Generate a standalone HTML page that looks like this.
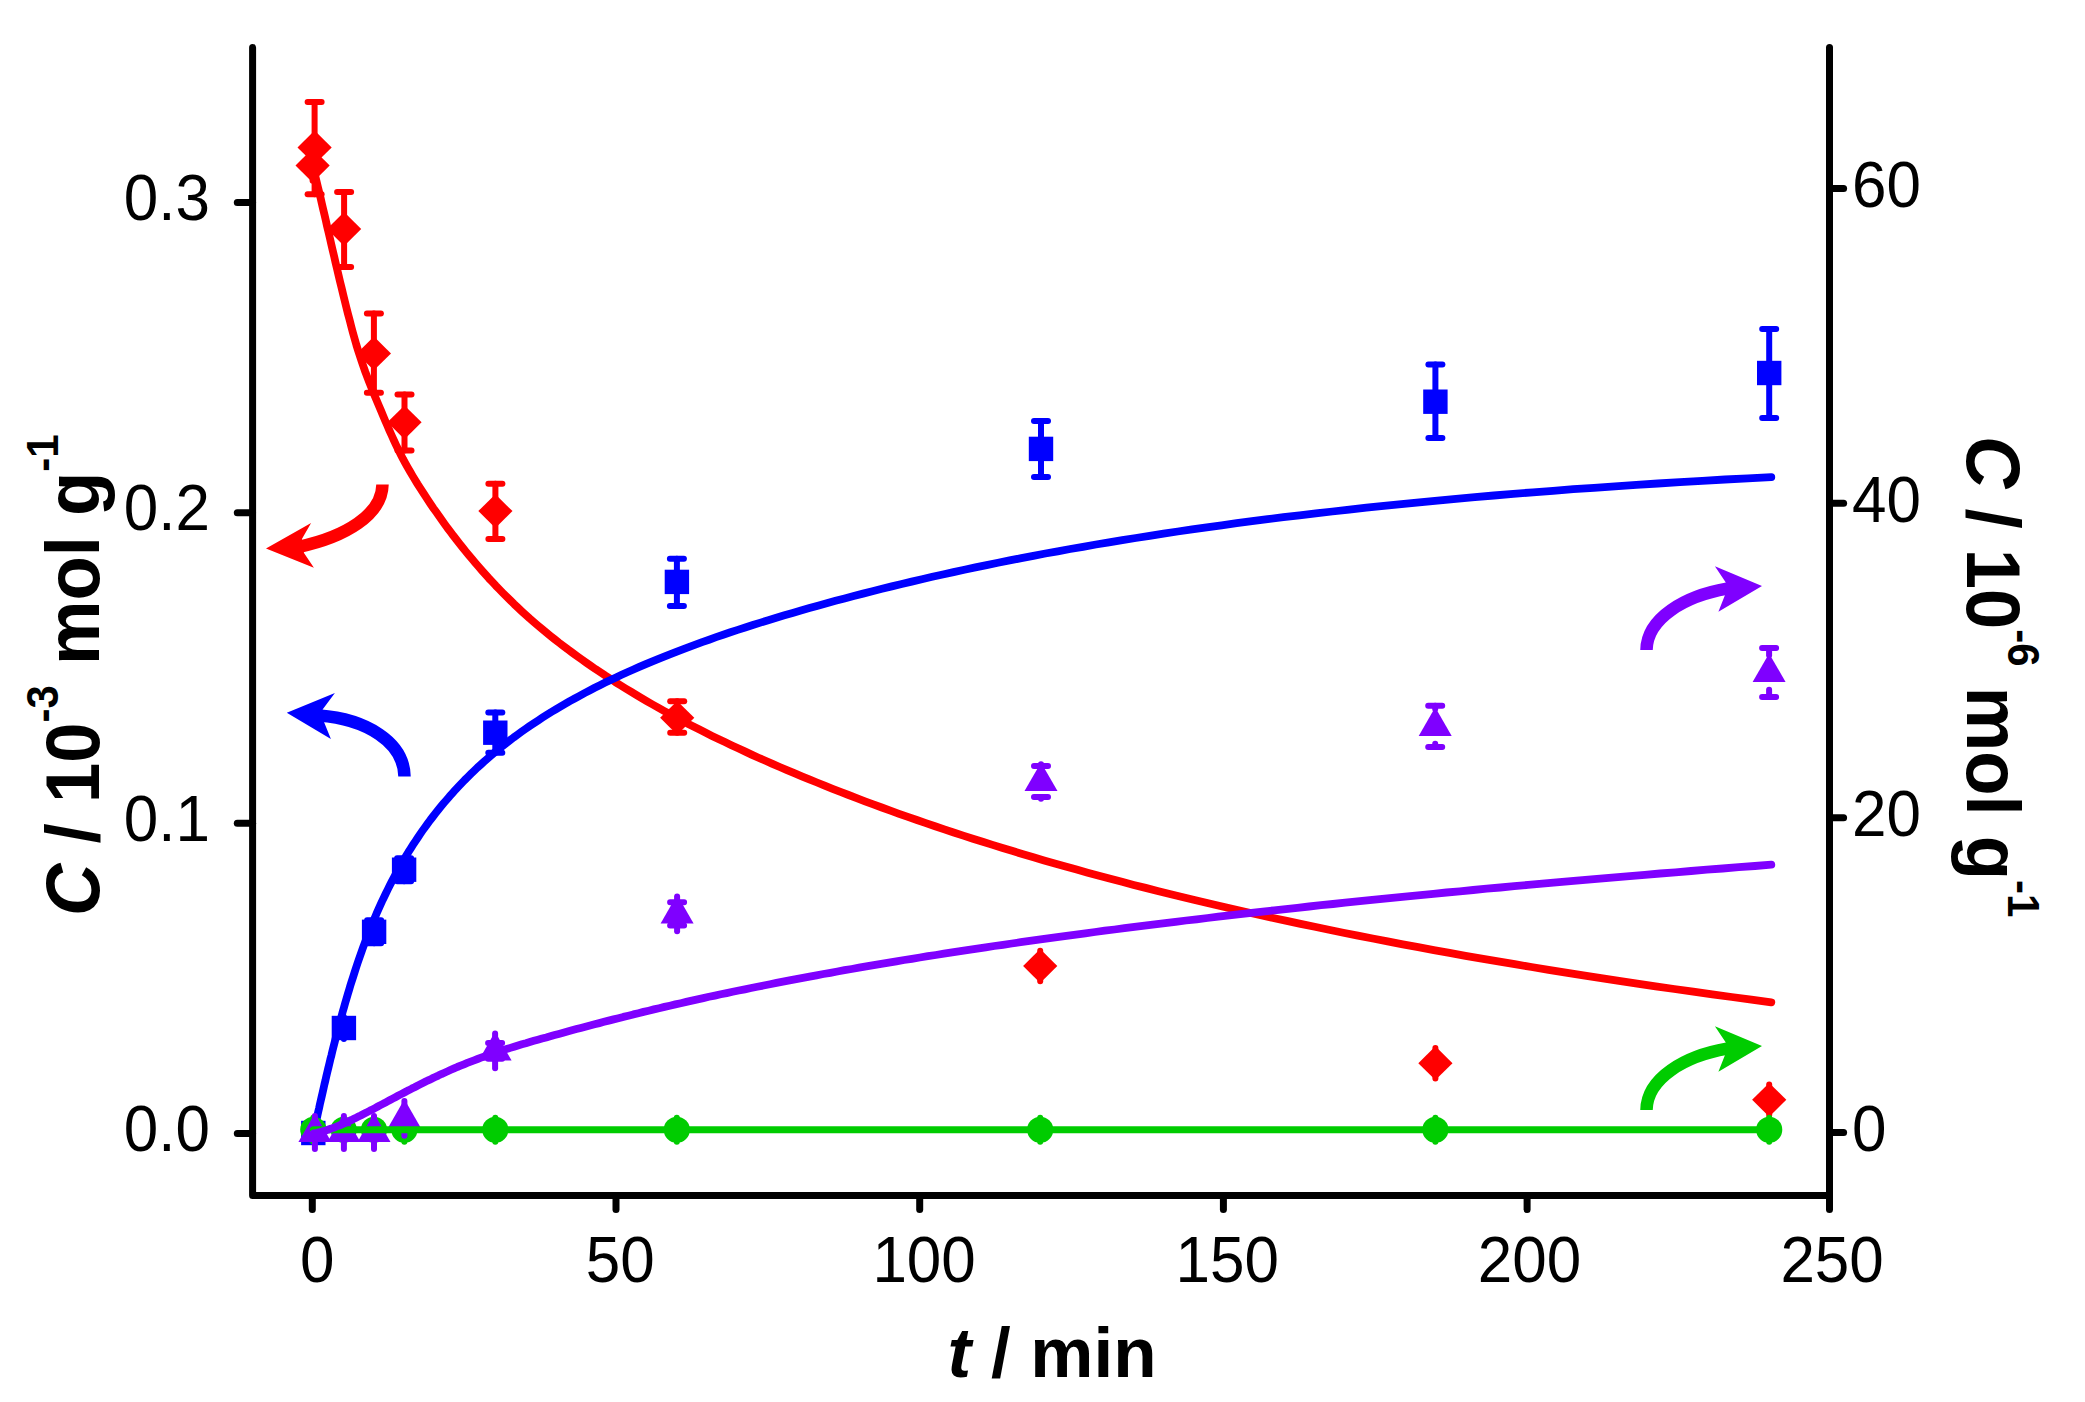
<!DOCTYPE html>
<html><head><meta charset="utf-8"><title>C vs t</title>
<style>
html,body{margin:0;padding:0;background:#fff;}
svg{display:block}
text{font-family:"Liberation Sans",sans-serif;fill:#000}
.tk{font-size:62px}
.ax{font-size:72.5px;font-weight:bold}
.sup{font-size:42px}
</style></head><body>
<svg width="2085" height="1402" viewBox="0 0 2085 1402">
<rect width="2085" height="1402" fill="#fff"/>

<g id="red">
<path d="M312.6,150.2V180.8" stroke="#FF0000" stroke-width="6" stroke-linecap="round"/>
<g stroke="#FF0000" stroke-width="6" stroke-linecap="round" fill="none"><path d="M314.6,102.0V194.2"/><path d="M307.6,102.0H321.6"/><path d="M307.6,194.2H321.6"/></g>
<g stroke="#FF0000" stroke-width="6" stroke-linecap="round" fill="none"><path d="M344.1,192.0V267.0"/><path d="M337.1,192.0H351.1"/><path d="M337.1,267.0H351.1"/></g>
<g stroke="#FF0000" stroke-width="6" stroke-linecap="round" fill="none"><path d="M373.9,313.6V392.8"/><path d="M366.9,313.6H380.9"/><path d="M366.9,392.8H380.9"/></g>
<g stroke="#FF0000" stroke-width="6" stroke-linecap="round" fill="none"><path d="M404.5,394.5V450.6"/><path d="M397.5,394.5H411.5"/><path d="M397.5,450.6H411.5"/></g>
<g stroke="#FF0000" stroke-width="6" stroke-linecap="round" fill="none"><path d="M495.4,483.7V538.9"/><path d="M488.4,483.7H502.4"/><path d="M488.4,538.9H502.4"/></g>
<g stroke="#FF0000" stroke-width="6" stroke-linecap="round" fill="none"><path d="M677.2,701.2V732.8"/><path d="M670.2,701.2H684.2"/><path d="M670.2,732.8H684.2"/></g>
<path d="M1040.2,950.7V981.3" stroke="#FF0000" stroke-width="6" stroke-linecap="round"/>
<path d="M1435.4,1047.9V1078.5" stroke="#FF0000" stroke-width="6" stroke-linecap="round"/>
<path d="M1769.2,1084.5V1115.1" stroke="#FF0000" stroke-width="6" stroke-linecap="round"/>
<path d="M295.5,165.5L312.6,148.6L329.7,165.5L312.6,182.4Z" fill="#FF0000"/>
<path d="M297.5,147.4L314.6,130.5L331.7,147.4L314.6,164.3Z" fill="#FF0000"/>
<path d="M327.0,229.0L344.1,212.1L361.2,229.0L344.1,245.9Z" fill="#FF0000"/>
<path d="M356.8,353.4L373.9,336.5L391.0,353.4L373.9,370.3Z" fill="#FF0000"/>
<path d="M387.4,422.3L404.5,405.4L421.6,422.3L404.5,439.2Z" fill="#FF0000"/>
<path d="M478.3,511.1L495.4,494.2L512.5,511.1L495.4,528.0Z" fill="#FF0000"/>
<path d="M660.1,717.8L677.2,700.9L694.3,717.8L677.2,734.7Z" fill="#FF0000"/>
<path d="M1023.1,966.0L1040.2,949.1L1057.3,966.0L1040.2,982.9Z" fill="#FF0000"/>
<path d="M1418.3,1063.2L1435.4,1046.3L1452.5,1063.2L1435.4,1080.1Z" fill="#FF0000"/>
<path d="M1752.1,1099.8L1769.2,1082.9L1786.3,1099.8L1769.2,1116.7Z" fill="#FF0000"/>
</g>
<g id="blue">
<path d="M343.9,1017.0V1039.0" stroke="#0000FF" stroke-width="6" stroke-linecap="round"/>
<g stroke="#0000FF" stroke-width="6" stroke-linecap="round" fill="none"><path d="M374.1,920.3V943.3"/><path d="M367.1,920.3H381.1"/><path d="M367.1,943.3H381.1"/></g>
<g stroke="#0000FF" stroke-width="6" stroke-linecap="round" fill="none"><path d="M404.1,858.3V881.2"/><path d="M397.1,858.3H411.1"/><path d="M397.1,881.2H411.1"/></g>
<g stroke="#0000FF" stroke-width="6" stroke-linecap="round" fill="none"><path d="M495.3,712.6V752.8"/><path d="M488.3,712.6H502.3"/><path d="M488.3,752.8H502.3"/></g>
<g stroke="#0000FF" stroke-width="6" stroke-linecap="round" fill="none"><path d="M676.9,558.8V605.9"/><path d="M669.9,558.8H683.9"/><path d="M669.9,605.9H683.9"/></g>
<g stroke="#0000FF" stroke-width="6" stroke-linecap="round" fill="none"><path d="M1041.0,420.9V476.9"/><path d="M1034.0,420.9H1048.0"/><path d="M1034.0,476.9H1048.0"/></g>
<g stroke="#0000FF" stroke-width="6" stroke-linecap="round" fill="none"><path d="M1435.4,364.5V438.1"/><path d="M1428.4,364.5H1442.4"/><path d="M1428.4,438.1H1442.4"/></g>
<g stroke="#0000FF" stroke-width="6" stroke-linecap="round" fill="none"><path d="M1769.2,329.0V418.0"/><path d="M1762.2,329.0H1776.2"/><path d="M1762.2,418.0H1776.2"/></g>
<rect x="301.1" y="1120.8" width="24.4" height="24.4" fill="#0000FF"/>
<rect x="331.7" y="1015.8" width="24.4" height="24.4" fill="#0000FF"/>
<rect x="361.9" y="919.6" width="24.4" height="24.4" fill="#0000FF"/>
<rect x="391.9" y="857.5" width="24.4" height="24.4" fill="#0000FF"/>
<rect x="483.1" y="720.5" width="24.4" height="24.4" fill="#0000FF"/>
<rect x="664.7" y="569.7" width="24.4" height="24.4" fill="#0000FF"/>
<rect x="1028.8" y="436.7" width="24.4" height="24.4" fill="#0000FF"/>
<rect x="1423.2" y="389.5" width="24.4" height="24.4" fill="#0000FF"/>
<rect x="1757.0" y="360.8" width="24.4" height="24.4" fill="#0000FF"/>
</g>
<path d="M313.2,167.9 L314.4,172.6 L315.6,177.4 L316.8,182.4 L318.0,187.4 L319.3,192.7 L320.6,198.0 L321.8,203.4 L323.1,209.0 L324.5,214.7 L325.8,220.4 L327.1,226.3 L328.5,232.2 L329.9,238.2 L331.3,244.3 L332.7,250.4 L334.2,256.6 L335.6,262.9 L337.1,269.2 L338.6,275.5 L340.1,281.9 L341.7,288.3 L343.2,294.7 L344.8,301.1 L346.4,307.6 L348.0,314.0 L349.7,320.3 L351.3,326.6 L353.0,332.9 L354.7,339.0 L356.4,345.0 L358.2,350.8 L360.0,356.4 L361.8,361.8 L363.6,367.0 L365.4,372.1 L367.3,377.1 L369.2,382.0 L371.1,386.8 L373.0,391.6 L375.0,396.4 L377.0,401.2 L379.0,406.0 L381.1,410.9 L383.1,415.8 L385.2,420.7 L387.4,425.7 L389.5,430.6 L391.7,435.5 L393.9,440.4 L396.1,445.1 L398.4,449.8 L400.7,454.4 L403.0,458.9 L405.4,463.3 L407.8,467.6 L410.2,471.8 L412.6,475.9 L415.1,480.0 L417.6,484.1 L420.2,488.1 L422.8,492.2 L425.4,496.2 L428.0,500.2 L430.7,504.2 L433.4,508.2 L436.2,512.1 L439.0,516.1 L441.8,520.1 L444.6,524.0 L447.5,528.0 L450.5,531.9 L453.4,535.8 L456.5,539.7 L459.5,543.6 L462.6,547.5 L465.7,551.4 L468.9,555.3 L472.1,559.1 L475.4,563.0 L478.7,566.8 L482.0,570.6 L485.4,574.4 L488.8,578.2 L492.3,581.9 L495.8,585.7 L499.4,589.4 L503.0,593.1 L506.7,596.8 L510.4,600.4 L514.1,604.1 L517.9,607.7 L521.8,611.3 L525.7,614.8 L529.6,618.4 L533.6,621.9 L537.7,625.4 L541.8,628.8 L546.0,632.3 L550.2,635.7 L554.5,639.1 L558.8,642.5 L563.2,645.8 L567.6,649.2 L572.1,652.5 L576.7,655.9 L581.3,659.2 L586.0,662.5 L590.7,665.8 L595.5,669.1 L600.4,672.3 L605.3,675.6 L610.3,678.8 L615.3,682.1 L620.4,685.3 L625.6,688.5 L630.9,691.7 L636.2,694.9 L641.6,698.1 L647.1,701.3 L652.6,704.5 L658.2,707.6 L663.9,710.8 L669.6,713.9 L675.5,717.1 L681.4,720.2 L687.3,723.4 L693.4,726.5 L699.5,729.6 L705.8,732.8 L712.0,735.9 L718.4,739.0 L724.9,742.1 L731.4,745.2 L738.1,748.3 L744.8,751.4 L751.6,754.6 L758.5,757.7 L765.5,760.8 L772.5,763.9 L779.7,767.0 L787.0,770.1 L794.3,773.2 L801.8,776.3 L809.3,779.4 L817.0,782.5 L824.7,785.7 L832.6,788.8 L840.5,791.9 L848.6,795.0 L856.7,798.1 L865.0,801.3 L873.3,804.4 L881.8,807.5 L890.4,810.6 L899.1,813.8 L907.9,816.9 L916.9,820.0 L925.9,823.1 L935.1,826.2 L944.3,829.4 L953.7,832.5 L963.3,835.6 L972.9,838.7 L982.7,841.8 L992.6,844.9 L1002.6,848.0 L1012.8,851.1 L1023.1,854.2 L1033.5,857.3 L1044.1,860.4 L1054.8,863.4 L1065.6,866.5 L1076.6,869.6 L1087.7,872.7 L1099.0,875.7 L1110.4,878.8 L1122.0,881.8 L1133.7,884.9 L1145.6,887.9 L1157.6,891.0 L1169.8,894.0 L1182.1,897.0 L1194.6,900.0 L1207.3,903.0 L1220.1,906.0 L1233.1,909.0 L1246.2,912.0 L1259.6,915.0 L1273.1,918.0 L1286.8,920.9 L1300.6,923.9 L1314.7,926.8 L1328.9,929.8 L1343.3,932.7 L1357.9,935.6 L1372.7,938.5 L1387.6,941.4 L1402.8,944.3 L1418.2,947.2 L1433.8,950.1 L1449.5,952.9 L1465.5,955.8 L1481.7,958.6 L1498.1,961.4 L1514.7,964.2 L1531.5,967.0 L1548.6,969.8 L1565.9,972.6 L1583.3,975.4 L1601.1,978.1 L1619.0,980.8 L1637.2,983.6 L1655.6,986.3 L1674.3,989.0 L1693.2,991.7 L1712.3,994.3 L1731.7,997.0 L1751.4,999.6 L1771.3,1002.3" fill="none" stroke="#FF0000" stroke-width="7.8" stroke-linecap="round" stroke-linejoin="round"/>
<path d="M313.4,1133.3 L314.2,1129.9 L315.0,1126.4 L315.8,1122.9 L316.6,1119.3 L317.4,1115.6 L318.2,1111.9 L319.1,1108.1 L319.9,1104.3 L320.8,1100.4 L321.7,1096.5 L322.6,1092.6 L323.5,1088.6 L324.4,1084.5 L325.4,1080.5 L326.3,1076.4 L327.3,1072.2 L328.3,1068.0 L329.3,1063.8 L330.3,1059.6 L331.4,1055.4 L332.4,1051.1 L333.5,1046.8 L334.6,1042.5 L335.7,1038.1 L336.8,1033.8 L338.0,1029.4 L339.1,1025.0 L340.3,1020.6 L341.5,1016.2 L342.7,1011.8 L344.0,1007.4 L345.2,1003.0 L346.5,998.6 L347.8,994.2 L349.1,989.8 L350.4,985.4 L351.8,981.0 L353.2,976.7 L354.6,972.3 L356.0,967.9 L357.4,963.6 L358.9,959.3 L360.4,955.0 L361.9,950.7 L363.4,946.5 L365.0,942.3 L366.6,938.1 L368.2,933.9 L369.8,929.8 L371.5,925.6 L373.2,921.5 L374.9,917.5 L376.6,913.4 L378.4,909.4 L380.2,905.4 L382.0,901.4 L383.9,897.5 L385.8,893.5 L387.7,889.6 L389.6,885.8 L391.6,881.9 L393.6,878.1 L395.6,874.3 L397.7,870.5 L399.8,866.7 L401.9,863.0 L404.1,859.3 L406.3,855.6 L408.5,851.9 L410.8,848.3 L413.1,844.7 L415.5,841.1 L417.9,837.5 L420.3,833.9 L422.7,830.4 L425.2,826.9 L427.8,823.4 L430.3,820.0 L433.0,816.5 L435.6,813.1 L438.3,809.7 L441.1,806.3 L443.8,803.0 L446.7,799.7 L449.5,796.4 L452.5,793.1 L455.4,789.8 L458.4,786.6 L461.5,783.3 L464.6,780.1 L467.8,777.0 L471.0,773.8 L474.2,770.7 L477.5,767.5 L480.9,764.5 L484.3,761.4 L487.8,758.3 L491.3,755.3 L494.9,752.3 L498.5,749.3 L502.2,746.3 L506.0,743.4 L509.8,740.4 L513.6,737.5 L517.6,734.6 L521.6,731.7 L525.6,728.9 L529.7,726.0 L533.9,723.2 L538.2,720.4 L542.5,717.6 L546.9,714.8 L551.3,712.0 L555.8,709.3 L560.4,706.6 L565.1,703.9 L569.8,701.1 L574.7,698.5 L579.6,695.8 L584.5,693.1 L589.6,690.5 L594.7,687.8 L599.9,685.2 L605.2,682.6 L610.6,680.0 L616.0,677.4 L621.6,674.8 L627.2,672.3 L632.9,669.7 L638.7,667.2 L644.6,664.6 L650.6,662.1 L656.7,659.6 L662.9,657.1 L669.2,654.6 L675.6,652.1 L682.1,649.6 L688.7,647.1 L695.4,644.6 L702.1,642.1 L709.1,639.7 L716.1,637.2 L723.2,634.8 L730.4,632.3 L737.8,629.9 L745.2,627.5 L752.8,625.0 L760.5,622.6 L768.3,620.2 L776.3,617.7 L784.4,615.3 L792.6,612.9 L800.9,610.5 L809.4,608.1 L817.9,605.7 L826.7,603.2 L835.5,600.8 L844.6,598.4 L853.7,596.0 L863.0,593.6 L872.4,591.2 L882.0,588.8 L891.8,586.4 L901.7,584.0 L911.7,581.6 L921.9,579.2 L932.3,576.8 L942.8,574.5 L953.5,572.1 L964.4,569.7 L975.4,567.4 L986.6,565.1 L998.0,562.7 L1009.6,560.4 L1021.4,558.1 L1033.3,555.8 L1045.4,553.5 L1057.7,551.3 L1070.2,549.0 L1083.0,546.8 L1095.9,544.5 L1109.0,542.3 L1122.3,540.1 L1135.8,538.0 L1149.6,535.8 L1163.5,533.7 L1177.7,531.5 L1192.1,529.4 L1206.7,527.3 L1221.6,525.3 L1236.7,523.2 L1252.0,521.2 L1267.6,519.2 L1283.4,517.2 L1299.5,515.3 L1315.8,513.4 L1332.4,511.5 L1349.3,509.6 L1366.4,507.7 L1383.7,505.9 L1401.4,504.1 L1419.3,502.3 L1437.5,500.6 L1456.0,498.9 L1474.8,497.2 L1493.9,495.5 L1513.3,493.9 L1533.0,492.3 L1553.0,490.8 L1573.3,489.2 L1594.0,487.8 L1615.0,486.3 L1636.3,484.9 L1657.9,483.5 L1679.9,482.1 L1702.2,480.8 L1724.9,479.5 L1747.9,478.3 L1771.3,477.1" fill="none" stroke="#0000FF" stroke-width="7.8" stroke-linecap="round" stroke-linejoin="round"/>
<g id="green">
<path d="M313.3,1117.8V1141.8" stroke="#00CC00" stroke-width="6" stroke-linecap="round"/>
<circle cx="313.3" cy="1129.8" r="13.1" fill="#00CC00"/>
<path d="M343.7,1117.8V1141.8" stroke="#00CC00" stroke-width="6" stroke-linecap="round"/>
<circle cx="343.7" cy="1129.8" r="13.1" fill="#00CC00"/>
<path d="M374.0,1117.8V1141.8" stroke="#00CC00" stroke-width="6" stroke-linecap="round"/>
<circle cx="374.0" cy="1129.8" r="13.1" fill="#00CC00"/>
<path d="M404.4,1117.8V1141.8" stroke="#00CC00" stroke-width="6" stroke-linecap="round"/>
<circle cx="404.4" cy="1129.8" r="13.1" fill="#00CC00"/>
<path d="M495.3,1117.8V1141.8" stroke="#00CC00" stroke-width="6" stroke-linecap="round"/>
<circle cx="495.3" cy="1129.8" r="13.1" fill="#00CC00"/>
<path d="M676.8,1117.8V1141.8" stroke="#00CC00" stroke-width="6" stroke-linecap="round"/>
<circle cx="676.8" cy="1129.8" r="13.1" fill="#00CC00"/>
<path d="M1040.2,1117.8V1141.8" stroke="#00CC00" stroke-width="6" stroke-linecap="round"/>
<circle cx="1040.2" cy="1129.8" r="13.1" fill="#00CC00"/>
<path d="M1435.4,1117.8V1141.8" stroke="#00CC00" stroke-width="6" stroke-linecap="round"/>
<circle cx="1435.4" cy="1129.8" r="13.1" fill="#00CC00"/>
<path d="M1769.2,1117.8V1141.8" stroke="#00CC00" stroke-width="6" stroke-linecap="round"/>
<circle cx="1769.2" cy="1129.8" r="13.1" fill="#00CC00"/>
</g>
<g id="purple">
<path d="M404.4,1101.1V1118.4" stroke="#7F00FF" stroke-width="6" stroke-linecap="round"/>
<path d="M404.4,1135.7V1118.4" stroke="#7F00FF" stroke-width="6" stroke-linecap="round"/>
<path d="M404.4,1099.3L420.9,1127.9L387.9,1127.9Z" fill="#7F00FF"/>
<path d="M495.1,1033.6V1043.1" stroke="#7F00FF" stroke-width="6" stroke-linecap="round"/>
<path d="M495.1,1068.2V1058.7" stroke="#7F00FF" stroke-width="6" stroke-linecap="round"/>
<path d="M488.1,1043.1H502.1M488.1,1058.7H502.1" stroke="#7F00FF" stroke-width="6" stroke-linecap="round"/>
<path d="M495.1,1031.8L511.6,1060.4L478.6,1060.4Z" fill="#7F00FF"/>
<path d="M677.1,896.6V902.3" stroke="#7F00FF" stroke-width="6" stroke-linecap="round"/>
<path d="M677.1,931.2V925.5" stroke="#7F00FF" stroke-width="6" stroke-linecap="round"/>
<path d="M670.1,902.3H684.1M670.1,925.5H684.1" stroke="#7F00FF" stroke-width="6" stroke-linecap="round"/>
<path d="M677.1,894.8L693.6,923.4L660.6,923.4Z" fill="#7F00FF"/>
<path d="M1041.0,764.2V765.9" stroke="#7F00FF" stroke-width="6" stroke-linecap="round"/>
<path d="M1041.0,798.8V797.1" stroke="#7F00FF" stroke-width="6" stroke-linecap="round"/>
<path d="M1034.0,765.9H1048.0M1034.0,797.1H1048.0" stroke="#7F00FF" stroke-width="6" stroke-linecap="round"/>
<path d="M1041.0,762.4L1057.5,791.0L1024.5,791.0Z" fill="#7F00FF"/>
<path d="M1435.2,709.1V705.7" stroke="#7F00FF" stroke-width="6" stroke-linecap="round"/>
<path d="M1435.2,743.7V747.1" stroke="#7F00FF" stroke-width="6" stroke-linecap="round"/>
<path d="M1428.2,705.7H1442.2M1428.2,747.1H1442.2" stroke="#7F00FF" stroke-width="6" stroke-linecap="round"/>
<path d="M1435.2,707.3L1451.7,735.9L1418.7,735.9Z" fill="#7F00FF"/>
<path d="M1769.1,655.2V648.0" stroke="#7F00FF" stroke-width="6" stroke-linecap="round"/>
<path d="M1769.1,689.8V697.0" stroke="#7F00FF" stroke-width="6" stroke-linecap="round"/>
<path d="M1762.1,648.0H1776.1M1762.1,697.0H1776.1" stroke="#7F00FF" stroke-width="6" stroke-linecap="round"/>
<path d="M1769.1,653.4L1785.6,682.0L1752.6,682.0Z" fill="#7F00FF"/>
</g>
<g id="purple0">
<path d="M314.9,1113.3L331.4,1141.9L298.4,1141.9Z" fill="#7F00FF"/>
<path d="M314.9,1116.0V1149.0" stroke="#7F00FF" stroke-width="6" stroke-linecap="round"/>
<path d="M343.9,1113.3L360.4,1141.9L327.4,1141.9Z" fill="#7F00FF"/>
<path d="M343.9,1116.0V1149.0" stroke="#7F00FF" stroke-width="6" stroke-linecap="round"/>
<path d="M374.0,1113.3L390.5,1141.9L357.5,1141.9Z" fill="#7F00FF"/>
<path d="M374.0,1116.0V1149.0" stroke="#7F00FF" stroke-width="6" stroke-linecap="round"/>
</g>
<path d="M313.3,1129.8H1769.2" fill="none" stroke="#00CC00" stroke-width="7" stroke-linecap="round"/>
<path d="M313.4,1133.5 L315.2,1133.2 L317.1,1132.8 L319.0,1132.3 L320.9,1131.9 L322.8,1131.3 L324.7,1130.8 L326.7,1130.2 L328.6,1129.5 L330.6,1128.8 L332.6,1128.1 L334.7,1127.3 L336.7,1126.5 L338.8,1125.7 L340.9,1124.8 L343.0,1123.9 L345.2,1122.9 L347.3,1122.0 L349.5,1120.9 L351.7,1119.9 L353.9,1118.8 L356.2,1117.7 L358.4,1116.6 L360.7,1115.5 L363.0,1114.3 L365.4,1113.1 L367.7,1111.9 L370.1,1110.6 L372.5,1109.4 L375.0,1108.1 L377.4,1106.8 L379.9,1105.4 L382.4,1104.1 L385.0,1102.8 L387.5,1101.4 L390.1,1100.0 L392.7,1098.6 L395.4,1097.2 L398.0,1095.8 L400.7,1094.4 L403.4,1093.0 L406.2,1091.5 L409.0,1090.1 L411.8,1088.6 L414.6,1087.2 L417.4,1085.7 L420.3,1084.3 L423.3,1082.8 L426.2,1081.3 L429.2,1079.9 L432.2,1078.4 L435.2,1077.0 L438.3,1075.6 L441.4,1074.1 L444.5,1072.7 L447.7,1071.3 L450.9,1069.8 L454.1,1068.4 L457.3,1067.0 L460.6,1065.7 L464.0,1064.3 L467.3,1062.9 L470.7,1061.6 L474.1,1060.3 L477.6,1059.0 L481.1,1057.7 L484.6,1056.4 L488.2,1055.1 L491.8,1053.9 L495.4,1052.7 L499.1,1051.5 L502.8,1050.2 L506.5,1049.1 L510.3,1047.9 L514.1,1046.7 L518.0,1045.5 L521.9,1044.3 L525.9,1043.2 L529.8,1042.0 L533.9,1040.8 L537.9,1039.7 L542.0,1038.5 L546.2,1037.4 L550.3,1036.2 L554.6,1035.0 L558.8,1033.9 L563.2,1032.7 L567.5,1031.5 L571.9,1030.3 L576.4,1029.1 L580.8,1027.9 L585.4,1026.7 L590.0,1025.5 L594.6,1024.3 L599.3,1023.1 L604.0,1021.8 L608.7,1020.6 L613.6,1019.4 L618.4,1018.2 L623.3,1016.9 L628.3,1015.7 L633.3,1014.4 L638.4,1013.2 L643.5,1011.9 L648.7,1010.7 L653.9,1009.4 L659.1,1008.2 L664.5,1006.9 L669.8,1005.7 L675.3,1004.4 L680.8,1003.2 L686.3,1001.9 L691.9,1000.6 L697.6,999.4 L703.3,998.1 L709.0,996.8 L714.9,995.6 L720.7,994.3 L726.7,993.1 L732.7,991.8 L738.8,990.5 L744.9,989.3 L751.1,988.0 L757.3,986.7 L763.6,985.5 L770.0,984.2 L776.5,982.9 L783.0,981.7 L789.5,980.4 L796.2,979.1 L802.9,977.9 L809.6,976.6 L816.5,975.3 L823.4,974.0 L830.4,972.8 L837.4,971.5 L844.5,970.2 L851.7,969.0 L859.0,967.7 L866.3,966.4 L873.7,965.1 L881.2,963.9 L888.8,962.6 L896.4,961.3 L904.1,960.0 L911.9,958.8 L919.8,957.5 L927.8,956.2 L935.8,955.0 L943.9,953.7 L952.1,952.4 L960.4,951.1 L968.7,949.9 L977.2,948.6 L985.7,947.3 L994.3,946.0 L1003.0,944.8 L1011.8,943.5 L1020.7,942.2 L1029.7,940.9 L1038.7,939.7 L1047.9,938.4 L1057.1,937.1 L1066.4,935.8 L1075.9,934.6 L1085.4,933.3 L1095.0,932.0 L1104.7,930.7 L1114.5,929.5 L1124.5,928.2 L1134.5,926.9 L1144.6,925.6 L1154.8,924.4 L1165.1,923.1 L1175.5,921.8 L1186.1,920.5 L1196.7,919.3 L1207.5,918.0 L1218.3,916.7 L1229.3,915.4 L1240.3,914.2 L1251.5,912.9 L1262.8,911.6 L1274.2,910.3 L1285.7,909.1 L1297.4,907.8 L1309.1,906.5 L1321.0,905.2 L1333.0,904.0 L1345.1,902.7 L1357.4,901.4 L1369.7,900.2 L1382.2,898.9 L1394.8,897.6 L1407.5,896.3 L1420.4,895.1 L1433.4,893.8 L1446.5,892.5 L1459.8,891.3 L1473.2,890.0 L1486.7,888.7 L1500.4,887.5 L1514.2,886.2 L1528.1,884.9 L1542.2,883.7 L1556.4,882.4 L1570.8,881.1 L1585.3,879.9 L1600.0,878.6 L1614.8,877.3 L1629.7,876.1 L1644.8,874.8 L1660.1,873.5 L1675.5,872.3 L1691.1,871.0 L1706.8,869.7 L1722.7,868.5 L1738.7,867.2 L1754.9,866.0 L1771.3,864.7" fill="none" stroke="#7F00FF" stroke-width="7.8" stroke-linecap="round" stroke-linejoin="round"/>
<path d="M382.5,484.5C382,515 345,537 299,546.8" fill="none" stroke="#FF0000" stroke-width="12.5"/>
<path d="M266,548.4L311.1,522.9L301.9,538.9L304,553L313.9,567.8Z" fill="#FF0000"/>
<path d="M404.5,776.5C404,742 366,719 319,715.6" fill="none" stroke="#0000FF" stroke-width="12.5"/>
<path d="M286.8,712.7L334.9,693L322.6,709.6L324,722L330.9,738.9Z" fill="#0000FF"/>
<path d="M1646.5,650C1647,618 1685,596 1727,588.7" fill="none" stroke="#7F00FF" stroke-width="12.5"/><path d="M1762,585.9L1714.9,566.2L1725.8,582.4L1725,595L1718.4,611.7Z" fill="#7F00FF"/>
<path d="M1646.5,1110C1647,1078 1685,1056 1727,1048.7" fill="none" stroke="#00CC00" stroke-width="12.5"/><path d="M1762,1045.9L1714.9,1026.2L1725.8,1042.4L1725,1055L1718.4,1071.7Z" fill="#00CC00"/>
<g stroke="#000" stroke-width="7" stroke-linecap="round" stroke-linejoin="round" fill="none">
<path d="M252.6,47.5V1195.4H1829.5"/>
<path d="M1829.5,47.5V1209.5"/>
<path d="M237.3,202.5H252.6"/>
<path d="M237.3,512.8H252.6"/>
<path d="M237.3,823.2H252.6"/>
<path d="M237.3,1133.5H252.6"/>
<path d="M1829.5,188.5H1843.6"/>
<path d="M1829.5,503.2H1843.6"/>
<path d="M1829.5,817.8H1843.6"/>
<path d="M1829.5,1132.5H1843.6"/>
<path d="M312.3,1195.4V1209.5"/>
<path d="M616.0,1195.4V1209.5"/>
<path d="M919.7,1195.4V1209.5"/>
<path d="M1223.4,1195.4V1209.5"/>
<path d="M1527.1,1195.4V1209.5"/>
</g>
<text class="tk" transform="translate(209.9,219.9) scale(1,1.045)" text-anchor="end">0.3</text>
<text class="tk" transform="translate(209.9,530.2) scale(1,1.045)" text-anchor="end">0.2</text>
<text class="tk" transform="translate(209.9,840.6) scale(1,1.045)" text-anchor="end">0.1</text>
<text class="tk" transform="translate(209.9,1150.9) scale(1,1.045)" text-anchor="end">0.0</text>
<text class="tk" transform="translate(1852.0,206.8) scale(1,1.045)">60</text>
<text class="tk" transform="translate(1852.0,521.5) scale(1,1.045)">40</text>
<text class="tk" transform="translate(1852.0,836.1) scale(1,1.045)">20</text>
<text class="tk" transform="translate(1852.0,1150.8) scale(1,1.045)">0</text>
<text class="tk" transform="translate(317.2,1282.0) scale(1,1.045)" text-anchor="middle">0</text>
<text class="tk" transform="translate(620.3,1282.0) scale(1,1.045)" text-anchor="middle">50</text>
<text class="tk" transform="translate(924.1,1282.0) scale(1,1.045)" text-anchor="middle">100</text>
<text class="tk" transform="translate(1227.3,1282.0) scale(1,1.045)" text-anchor="middle">150</text>
<text class="tk" transform="translate(1529.4,1282.0) scale(1,1.045)" text-anchor="middle">200</text>
<text class="tk" transform="translate(1832.1,1282.0) scale(1,1.045)" text-anchor="middle">250</text>
<text class="ax" style="font-size:71px" transform="translate(947.5,1377.3)"><tspan font-style="italic">t</tspan> / min</text>
<text class="ax" transform="translate(98.8,915.9) rotate(-90) scale(1,1.04)"><tspan font-style="italic">C</tspan> / 10<tspan class="sup" dy="-39.5">-3</tspan><tspan dy="39.5"> mol g</tspan><tspan class="sup" dy="-39.5">-1</tspan></text>
<text class="ax" transform="translate(1966.6,435.9) rotate(90) scale(1,1.04)"><tspan font-style="italic">C</tspan> / 10<tspan class="sup" dy="-39.5">-6</tspan><tspan dy="39.5"> mol g</tspan><tspan class="sup" dy="-39.5">-1</tspan></text>
</svg></body></html>
